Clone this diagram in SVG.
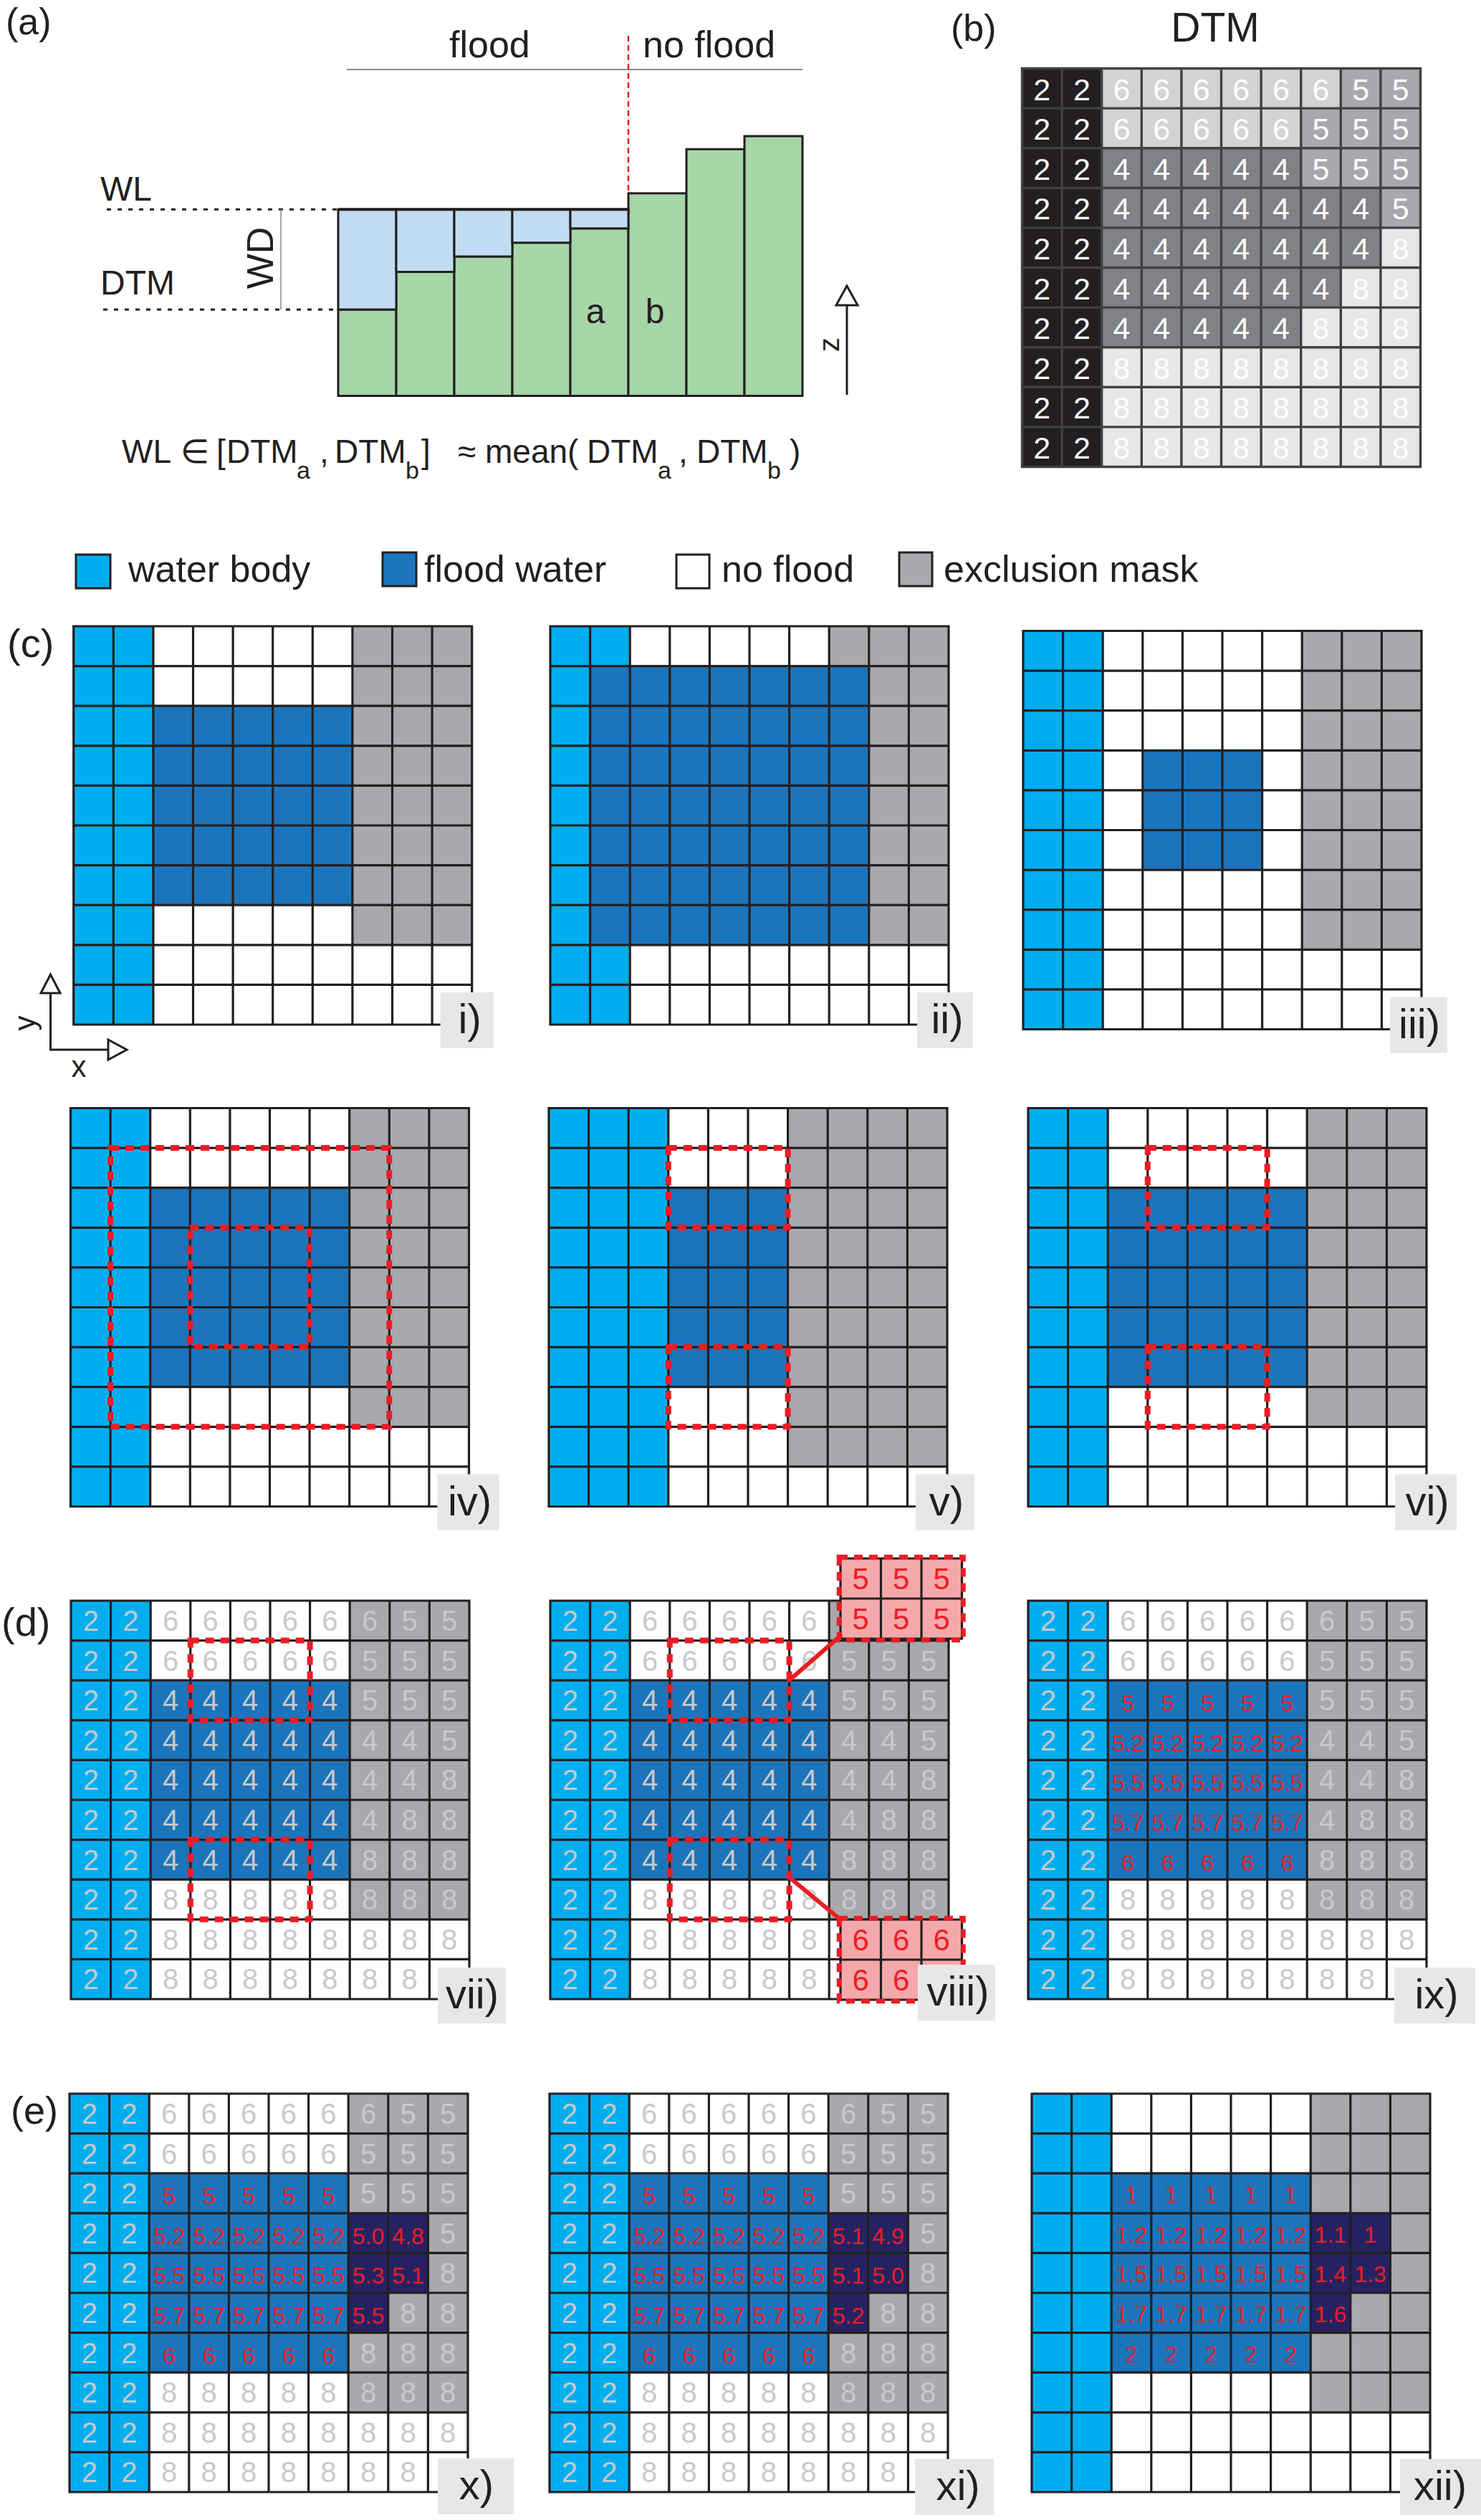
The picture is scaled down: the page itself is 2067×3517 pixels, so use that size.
<svg xmlns="http://www.w3.org/2000/svg" xmlns:xlink="http://www.w3.org/1999/xlink" width="2067" height="3517" viewBox="0 0 2067 3517">
<style>
text{font-family:'Liberation Sans',Arial,sans-serif}
.ln{fill:none;stroke:#231f20;stroke-width:3.2;stroke-linecap:square}
.lnb{fill:none;stroke:#414042;stroke-width:3.4;stroke-linecap:square}
.w{fill:#00aeef}.f{fill:#1b75bc}.e{fill:#a7a9ac}.d{fill:#262262}.n{fill:#fff}
.rd{fill:none;stroke:#ed1c24;stroke-width:8;stroke-dasharray:12 9}
.lb{fill:#e6e7e8}
.lt{font-size:58px;fill:#231f20;text-anchor:middle}
.g{font-size:40px;fill:#c8c9cb;text-anchor:middle}
.r{font-size:32px;fill:#ed1c24;text-anchor:middle}
.rb{font-size:42px;fill:#ed1c24;text-anchor:middle}
.bw{font-size:43px;fill:#fff;text-anchor:middle}
.t{font-size:52px;fill:#231f20}
.sw{stroke:#231f20;stroke-width:3}
</style>
<defs>
<path id="grid" class="ln" d="M0 0H556M0 55.6H556M0 111.2H556M0 166.8H556M0 222.4H556M0 278H556M0 333.6H556M0 389.2H556M0 444.8H556M0 500.4H556M0 556H556M0 0V556M55.6 0V556M111.2 0V556M166.8 0V556M222.4 0V556M278 0V556M333.6 0V556M389.2 0V556M444.8 0V556M500.4 0V556M556 0V556"/>
<path id="gridb" class="lnb" d="M0 0H556M0 55.6H556M0 111.2H556M0 166.8H556M0 222.4H556M0 278H556M0 333.6H556M0 389.2H556M0 444.8H556M0 500.4H556M0 556H556M0 0V556M55.6 0V556M111.2 0V556M166.8 0V556M222.4 0V556M278 0V556M333.6 0V556M389.2 0V556M444.8 0V556M500.4 0V556M556 0V556"/>
</defs>
<rect width="2067" height="3517" fill="#fff"/>

<!-- (a) -->
<g id="panel-a">
<text class="t" x="8" y="48">(a)</text>
<line x1="484" y1="97" x2="1120" y2="97" stroke="#8a8a8a" stroke-width="2"/>
<text class="t" x="627" y="80">flood</text>
<text class="t" x="897" y="80">no flood</text>
<line x1="877" y1="50" x2="877" y2="270" stroke="#ed1c24" stroke-width="2.5" stroke-dasharray="8 5"/>
<g stroke="#231f20" stroke-width="3" fill="#a6d5a8">
<rect x="472" y="432" width="81" height="120.5"/>
<rect x="553" y="379.5" width="81" height="173"/>
<rect x="634" y="358" width="81" height="194.5"/>
<rect x="715" y="338.7" width="81" height="213.8"/>
<rect x="796" y="318.8" width="81" height="233.7"/>
<rect x="877" y="269.8" width="81" height="282.7"/>
<rect x="958" y="208.2" width="81" height="344.3"/>
<rect x="1039" y="190" width="81" height="362.5"/>
</g>
<g stroke="#231f20" stroke-width="3" fill="#c1dcf2">
<rect x="472" y="292.3" width="81" height="139.7"/>
<rect x="553" y="292.3" width="81" height="87.2"/>
<rect x="634" y="292.3" width="81" height="65.7"/>
<rect x="715" y="292.3" width="81" height="46.4"/>
<rect x="796" y="292.3" width="81" height="26.5"/>
</g>
<line x1="472" y1="292.3" x2="877" y2="292.3" stroke="#231f20" stroke-width="4"/>
<line x1="149" y1="292.3" x2="470" y2="292.3" stroke="#231f20" stroke-width="3" stroke-dasharray="6 9"/>
<line x1="144" y1="432" x2="470" y2="432" stroke="#231f20" stroke-width="3" stroke-dasharray="6 9"/>
<line x1="392" y1="292.3" x2="392" y2="432" stroke="#8a8a8a" stroke-width="1.5"/>
<text x="140" y="280" font-size="48" fill="#231f20">WL</text>
<text x="140" y="411" font-size="48" fill="#231f20">DTM</text>
<text transform="translate(381,360) rotate(-90)" font-size="52" fill="#231f20" text-anchor="middle">WD</text>
<text x="831" y="451" font-size="48" fill="#231f20" text-anchor="middle">a</text>
<text x="914" y="451" font-size="48" fill="#231f20" text-anchor="middle">b</text>
<line x1="1182" y1="551" x2="1182" y2="425" stroke="#231f20" stroke-width="3"/>
<polygon points="1182,399 1167,426 1197,426" fill="#fff" stroke="#231f20" stroke-width="3"/>
<text transform="translate(1171,481) rotate(-90)" font-size="40" fill="#231f20" text-anchor="middle">z</text>
<text font-size="46" fill="#231f20"><tspan x="170" y="646">WL</tspan><tspan x="252" y="646">∈</tspan><tspan x="302" y="646">[</tspan><tspan x="316" y="646">DTM</tspan><tspan x="414" y="668" font-size="34">a</tspan><tspan x="446" y="646">,</tspan><tspan x="467" y="646">DTM</tspan><tspan x="566" y="668" font-size="34">b</tspan><tspan x="588" y="646">]</tspan><tspan x="639" y="646">≈</tspan><tspan x="677" y="646">mean(</tspan><tspan x="819" y="646">DTM</tspan><tspan x="918" y="668" font-size="34">a</tspan><tspan x="947" y="646">,</tspan><tspan x="972" y="646">DTM</tspan><tspan x="1071" y="668" font-size="34">b</tspan><tspan x="1102" y="646">)</tspan></text>
</g>

<!-- (b) -->
<g id="panel-b">
<text class="t" x="1327" y="57">(b)</text>
<text x="1696" y="58" font-size="57" fill="#231f20" text-anchor="middle">DTM</text>
<g transform="translate(1426.5,95.5)">
<rect width="556" height="556" fill="#e6e7e8"/>
<rect width="111.2" height="556" fill="#231f20"/>
<g fill="#d1d3d4"><rect x="111.2" width="333.6" height="55.6"/><rect x="111.2" y="55.6" width="278" height="55.6"/></g>
<g fill="#a7a9ac"><rect x="444.8" width="111.2" height="55.6"/><rect x="389.2" y="55.6" width="166.8" height="111.2"/><rect x="500.4" y="166.8" width="55.6" height="55.6"/></g>
<g fill="#808285"><rect x="111.2" y="111.2" width="278" height="55.6"/><rect x="111.2" y="166.8" width="389.2" height="111.2"/><rect x="111.2" y="278" width="333.6" height="55.6"/><rect x="111.2" y="333.6" width="278" height="55.6"/></g>
<use href="#gridb"/>
<g class="bw">
<g transform="translate(0,44)"><text x="27.8">2</text><text x="83.4">2</text><text x="139">6</text><text x="194.6">6</text><text x="250.2">6</text><text x="305.8">6</text><text x="361.4">6</text><text x="417">6</text><text x="472.6">5</text><text x="528.2">5</text></g>
<g transform="translate(0,99.6)"><text x="27.8">2</text><text x="83.4">2</text><text x="139">6</text><text x="194.6">6</text><text x="250.2">6</text><text x="305.8">6</text><text x="361.4">6</text><text x="417">5</text><text x="472.6">5</text><text x="528.2">5</text></g>
<g transform="translate(0,155.2)"><text x="27.8">2</text><text x="83.4">2</text><text x="139">4</text><text x="194.6">4</text><text x="250.2">4</text><text x="305.8">4</text><text x="361.4">4</text><text x="417">5</text><text x="472.6">5</text><text x="528.2">5</text></g>
<g transform="translate(0,210.8)"><text x="27.8">2</text><text x="83.4">2</text><text x="139">4</text><text x="194.6">4</text><text x="250.2">4</text><text x="305.8">4</text><text x="361.4">4</text><text x="417">4</text><text x="472.6">4</text><text x="528.2">5</text></g>
<g transform="translate(0,266.4)"><text x="27.8">2</text><text x="83.4">2</text><text x="139">4</text><text x="194.6">4</text><text x="250.2">4</text><text x="305.8">4</text><text x="361.4">4</text><text x="417">4</text><text x="472.6">4</text><text x="528.2">8</text></g>
<g transform="translate(0,322)"><text x="27.8">2</text><text x="83.4">2</text><text x="139">4</text><text x="194.6">4</text><text x="250.2">4</text><text x="305.8">4</text><text x="361.4">4</text><text x="417">4</text><text x="472.6">8</text><text x="528.2">8</text></g>
<g transform="translate(0,377.6)"><text x="27.8">2</text><text x="83.4">2</text><text x="139">4</text><text x="194.6">4</text><text x="250.2">4</text><text x="305.8">4</text><text x="361.4">4</text><text x="417">8</text><text x="472.6">8</text><text x="528.2">8</text></g>
<g transform="translate(0,433.2)"><text x="27.8">2</text><text x="83.4">2</text><text x="139">8</text><text x="194.6">8</text><text x="250.2">8</text><text x="305.8">8</text><text x="361.4">8</text><text x="417">8</text><text x="472.6">8</text><text x="528.2">8</text></g>
<g transform="translate(0,488.8)"><text x="27.8">2</text><text x="83.4">2</text><text x="139">8</text><text x="194.6">8</text><text x="250.2">8</text><text x="305.8">8</text><text x="361.4">8</text><text x="417">8</text><text x="472.6">8</text><text x="528.2">8</text></g>
<g transform="translate(0,544.4)"><text x="27.8">2</text><text x="83.4">2</text><text x="139">8</text><text x="194.6">8</text><text x="250.2">8</text><text x="305.8">8</text><text x="361.4">8</text><text x="417">8</text><text x="472.6">8</text><text x="528.2">8</text></g>
</g>
</g>
</g>

<!-- legend -->
<g id="legend">
<rect class="w sw" x="106" y="774" width="48" height="47"/>
<text class="t" x="179" y="812">water body</text>
<rect class="f sw" x="534" y="771" width="47" height="47"/>
<text class="t" x="592" y="812">flood water</text>
<rect class="n sw" x="944" y="774" width="46" height="47"/>
<text class="t" x="1007" y="812">no flood</text>
<rect class="e sw" x="1255" y="771" width="46" height="47"/>
<text class="t" x="1317" y="812">exclusion mask</text>
</g>

<text id="label-c" x="10" y="917" font-size="56" fill="#231f20">(c)</text>
<text id="label-d" x="2" y="2283" font-size="56" fill="#231f20">(d)</text>
<text id="label-e" x="15" y="2964" font-size="54" fill="#231f20">(e)</text>

<g id="axes">
<path d="M70.5 1386V1465H152" fill="none" stroke="#231f20" stroke-width="3"/>
<polygon points="70.5,1360 57,1386 84,1386" fill="#fff" stroke="#231f20" stroke-width="3"/>
<polygon points="177,1465 151,1451 151,1479" fill="#fff" stroke="#231f20" stroke-width="3"/>
<text transform="translate(49,1428) rotate(-90)" font-size="42" fill="#231f20" text-anchor="middle">y</text>
<text x="110" y="1503" font-size="42" fill="#231f20" text-anchor="middle">x</text>
</g>

<!-- i -->
<g id="panel-i" transform="translate(102.7,874)">
<rect class="n" width="556" height="556"/>
<rect class="w" width="111.2" height="556"/>
<rect class="f" x="111.2" y="111.2" width="278" height="278"/>
<rect class="e" x="389.2" width="166.8" height="444.8"/>
<use href="#grid"/>
<rect class="lb" x="512" y="511" width="74" height="78"/><text class="lt" x="553" y="568">i)</text>
</g>

<!-- ii -->
<g id="panel-ii" transform="translate(768,874)">
<rect class="n" width="556" height="556"/>
<rect class="w" width="55.6" height="556"/>
<rect class="w" x="55.6" width="55.6" height="55.6"/>
<rect class="w" x="55.6" y="444.8" width="55.6" height="111.2"/>
<rect class="f" x="55.6" y="55.6" width="389.2" height="389.2"/>
<rect class="e" x="389.2" width="166.8" height="55.6"/>
<rect class="e" x="444.8" y="55.6" width="111.2" height="389.2"/>
<use href="#grid"/>
<rect class="lb" x="512" y="511" width="78" height="78"/><text class="lt" x="554" y="568">ii)</text>
</g>

<!-- iii -->
<g id="panel-iii" transform="translate(1428,880.5)">
<rect class="n" width="556" height="556"/>
<rect class="w" width="111.2" height="556"/>
<rect class="f" x="166.8" y="166.8" width="166.8" height="166.8"/>
<rect class="e" x="389.2" width="166.8" height="444.8"/>
<use href="#grid"/>
<rect class="lb" x="512" y="511" width="80" height="78"/><text class="lt" x="553" y="568">iii)</text>
</g>

<!-- iv -->
<g id="panel-iv" transform="translate(98.5,1546.5)">
<rect class="n" width="556" height="556"/>
<rect class="w" width="111.2" height="556"/>
<rect class="f" x="111.2" y="111.2" width="278" height="278"/>
<rect class="e" x="389.2" width="166.8" height="444.8"/>
<use href="#grid"/>
<rect class="rd" x="55.6" y="55.6" width="389.2" height="389.2"/>
<rect class="rd" x="166.8" y="166.8" width="166.8" height="166.8"/>
<rect class="lb" x="512" y="511" width="86" height="78"/><text class="lt" x="557" y="568">iv)</text>
</g>

<!-- v -->
<g id="panel-v" transform="translate(766,1546.5)">
<rect class="n" width="556" height="556"/>
<rect class="w" width="166.8" height="556"/>
<rect class="f" x="166.8" y="111.2" width="166.8" height="278"/>
<rect class="e" x="333.6" width="222.4" height="500.4"/>
<use href="#grid"/>
<rect class="rd" x="166.8" y="55.6" width="166.8" height="111.2"/>
<rect class="rd" x="166.8" y="333.6" width="166.8" height="111.2"/>
<rect class="lb" x="512" y="511" width="82" height="78"/><text class="lt" x="555" y="568">v)</text>
</g>

<!-- vi -->
<g id="panel-vi" transform="translate(1435,1546.5)">
<rect class="n" width="556" height="556"/>
<rect class="w" width="111.2" height="556"/>
<rect class="f" x="111.2" y="111.2" width="278" height="278"/>
<rect class="e" x="389.2" width="166.8" height="444.8"/>
<use href="#grid"/>
<rect class="rd" x="166.8" y="55.6" width="166.8" height="111.2"/>
<rect class="rd" x="166.8" y="333.6" width="166.8" height="111.2"/>
<rect class="lb" x="512" y="511" width="86" height="78"/><text class="lt" x="557" y="568">vi)</text>
</g>

<!-- vii -->
<g id="panel-vii" transform="translate(99,2234)">
<rect class="n" width="556" height="556"/>
<rect class="w" width="111.2" height="556"/>
<rect class="f" x="111.2" y="111.2" width="278" height="278"/>
<rect class="e" x="389.2" width="166.8" height="444.8"/>
<use href="#grid"/>
<g class="g">
<g transform="translate(0,42)"><text x="27.8">2</text><text x="83.4">2</text><text x="139">6</text><text x="194.6">6</text><text x="250.2">6</text><text x="305.8">6</text><text x="361.4">6</text><text x="417">6</text><text x="472.6">5</text><text x="528.2">5</text></g>
<g transform="translate(0,97.6)"><text x="27.8">2</text><text x="83.4">2</text><text x="139">6</text><text x="194.6">6</text><text x="250.2">6</text><text x="305.8">6</text><text x="361.4">6</text><text x="417">5</text><text x="472.6">5</text><text x="528.2">5</text></g>
<g transform="translate(0,153.2)"><text x="27.8">2</text><text x="83.4">2</text><text x="139">4</text><text x="194.6">4</text><text x="250.2">4</text><text x="305.8">4</text><text x="361.4">4</text><text x="417">5</text><text x="472.6">5</text><text x="528.2">5</text></g>
<g transform="translate(0,208.8)"><text x="27.8">2</text><text x="83.4">2</text><text x="139">4</text><text x="194.6">4</text><text x="250.2">4</text><text x="305.8">4</text><text x="361.4">4</text><text x="417">4</text><text x="472.6">4</text><text x="528.2">5</text></g>
<g transform="translate(0,264.4)"><text x="27.8">2</text><text x="83.4">2</text><text x="139">4</text><text x="194.6">4</text><text x="250.2">4</text><text x="305.8">4</text><text x="361.4">4</text><text x="417">4</text><text x="472.6">4</text><text x="528.2">8</text></g>
<g transform="translate(0,320)"><text x="27.8">2</text><text x="83.4">2</text><text x="139">4</text><text x="194.6">4</text><text x="250.2">4</text><text x="305.8">4</text><text x="361.4">4</text><text x="417">4</text><text x="472.6">8</text><text x="528.2">8</text></g>
<g transform="translate(0,375.6)"><text x="27.8">2</text><text x="83.4">2</text><text x="139">4</text><text x="194.6">4</text><text x="250.2">4</text><text x="305.8">4</text><text x="361.4">4</text><text x="417">8</text><text x="472.6">8</text><text x="528.2">8</text></g>
<g transform="translate(0,431.2)"><text x="27.8">2</text><text x="83.4">2</text><text x="139">8</text><text x="194.6">8</text><text x="250.2">8</text><text x="305.8">8</text><text x="361.4">8</text><text x="417">8</text><text x="472.6">8</text><text x="528.2">8</text></g>
<g transform="translate(0,486.8)"><text x="27.8">2</text><text x="83.4">2</text><text x="139">8</text><text x="194.6">8</text><text x="250.2">8</text><text x="305.8">8</text><text x="361.4">8</text><text x="417">8</text><text x="472.6">8</text><text x="528.2">8</text></g>
<g transform="translate(0,542.4)"><text x="27.8">2</text><text x="83.4">2</text><text x="139">8</text><text x="194.6">8</text><text x="250.2">8</text><text x="305.8">8</text><text x="361.4">8</text><text x="417">8</text><text x="472.6">8</text></g>
</g>
<rect class="rd" x="166.8" y="55.6" width="166.8" height="111.2"/>
<rect class="rd" x="166.8" y="333.6" width="166.8" height="111.2"/>
<rect class="lb" x="512" y="512" width="95" height="78"/><text class="lt" x="560" y="569">vii)</text>
</g>

<!-- viii -->
<g id="panel-viii" transform="translate(768,2234)">
<rect class="n" width="556" height="556"/>
<rect class="w" width="111.2" height="556"/>
<rect class="f" x="111.2" y="111.2" width="278" height="278"/>
<rect class="e" x="389.2" width="166.8" height="444.8"/>
<use href="#grid"/>
<g class="g">
<g transform="translate(0,42)"><text x="27.8">2</text><text x="83.4">2</text><text x="139">6</text><text x="194.6">6</text><text x="250.2">6</text><text x="305.8">6</text><text x="361.4">6</text></g>
<g transform="translate(0,97.6)"><text x="27.8">2</text><text x="83.4">2</text><text x="139">6</text><text x="194.6">6</text><text x="250.2">6</text><text x="305.8">6</text><text x="361.4">6</text><text x="417">5</text><text x="472.6">5</text><text x="528.2">5</text></g>
<g transform="translate(0,153.2)"><text x="27.8">2</text><text x="83.4">2</text><text x="139">4</text><text x="194.6">4</text><text x="250.2">4</text><text x="305.8">4</text><text x="361.4">4</text><text x="417">5</text><text x="472.6">5</text><text x="528.2">5</text></g>
<g transform="translate(0,208.8)"><text x="27.8">2</text><text x="83.4">2</text><text x="139">4</text><text x="194.6">4</text><text x="250.2">4</text><text x="305.8">4</text><text x="361.4">4</text><text x="417">4</text><text x="472.6">4</text><text x="528.2">5</text></g>
<g transform="translate(0,264.4)"><text x="27.8">2</text><text x="83.4">2</text><text x="139">4</text><text x="194.6">4</text><text x="250.2">4</text><text x="305.8">4</text><text x="361.4">4</text><text x="417">4</text><text x="472.6">4</text><text x="528.2">8</text></g>
<g transform="translate(0,320)"><text x="27.8">2</text><text x="83.4">2</text><text x="139">4</text><text x="194.6">4</text><text x="250.2">4</text><text x="305.8">4</text><text x="361.4">4</text><text x="417">4</text><text x="472.6">8</text><text x="528.2">8</text></g>
<g transform="translate(0,375.6)"><text x="27.8">2</text><text x="83.4">2</text><text x="139">4</text><text x="194.6">4</text><text x="250.2">4</text><text x="305.8">4</text><text x="361.4">4</text><text x="417">8</text><text x="472.6">8</text><text x="528.2">8</text></g>
<g transform="translate(0,431.2)"><text x="27.8">2</text><text x="83.4">2</text><text x="139">8</text><text x="194.6">8</text><text x="250.2">8</text><text x="305.8">8</text><text x="361.4">8</text><text x="417">8</text><text x="472.6">8</text><text x="528.2">8</text></g>
<g transform="translate(0,486.8)"><text x="27.8">2</text><text x="83.4">2</text><text x="139">8</text><text x="194.6">8</text><text x="250.2">8</text><text x="305.8">8</text><text x="361.4">8</text></g>
<g transform="translate(0,542.4)"><text x="27.8">2</text><text x="83.4">2</text><text x="139">8</text><text x="194.6">8</text><text x="250.2">8</text><text x="305.8">8</text><text x="361.4">8</text></g>
</g>
<rect class="rd" x="166.8" y="55.6" width="166.8" height="111.2"/>
<rect class="rd" x="166.8" y="333.6" width="166.8" height="111.2"/>
</g>

<g id="callout-top" transform="translate(1173,2175)">
<rect width="169.5" height="112" fill="#f5a8aa"/>
<path class="ln" d="M0 0H169.5M0 56H169.5M0 112H169.5M0 0V112M56.5 0V112M113 0V112M169.5 0V112"/>
<rect class="rd" x="-2" y="-2" width="173.5" height="116" style="stroke-width:6.5"/>
<g class="rb"><text x="28.25" y="43">5</text><text x="84.75" y="43">5</text><text x="141.25" y="43">5</text><text x="28.25" y="99">5</text><text x="84.75" y="99">5</text><text x="141.25" y="99">5</text></g>
</g>
<g id="callout-bottom" transform="translate(1173,2679)">
<rect width="169.5" height="112" fill="#f5a8aa"/>
<path class="ln" d="M0 0H169.5M0 56H169.5M0 112H169.5M0 0V112M56.5 0V112M113 0V112M169.5 0V112"/>
<rect class="rd" x="-2" y="-2" width="173.5" height="116" style="stroke-width:6.5"/>
<g class="rb"><text x="28.25" y="43">6</text><text x="84.75" y="43">6</text><text x="141.25" y="43">6</text><text x="28.25" y="99">6</text><text x="84.75" y="99">6</text></g>
</g>

<g id="connectors" stroke="#ed1c24" stroke-width="6" stroke-linecap="round">
<line x1="1101.6" y1="2345" x2="1173" y2="2283"/>
<line x1="1101.6" y1="2620" x2="1173" y2="2679"/>
</g>

<g id="label-viii"><rect class="lb" x="1281" y="2742" width="108" height="78"/><text class="lt" x="1337" y="2799">viii)</text></g>

<!-- ix -->
<g id="panel-ix" transform="translate(1435,2234)">
<rect class="n" width="556" height="556"/>
<rect class="w" width="111.2" height="556"/>
<rect class="f" x="111.2" y="111.2" width="278" height="278"/>
<rect class="e" x="389.2" width="166.8" height="444.8"/>
<use href="#grid"/>
<g class="g">
<g transform="translate(0,42)"><text x="27.8">2</text><text x="83.4">2</text><text x="139">6</text><text x="194.6">6</text><text x="250.2">6</text><text x="305.8">6</text><text x="361.4">6</text><text x="417">6</text><text x="472.6">5</text><text x="528.2">5</text></g>
<g transform="translate(0,97.6)"><text x="27.8">2</text><text x="83.4">2</text><text x="139">6</text><text x="194.6">6</text><text x="250.2">6</text><text x="305.8">6</text><text x="361.4">6</text><text x="417">5</text><text x="472.6">5</text><text x="528.2">5</text></g>
<g transform="translate(0,153.2)"><text x="27.8">2</text><text x="83.4">2</text><text x="417">5</text><text x="472.6">5</text><text x="528.2">5</text></g>
<g transform="translate(0,208.8)"><text x="27.8">2</text><text x="83.4">2</text><text x="417">4</text><text x="472.6">4</text><text x="528.2">5</text></g>
<g transform="translate(0,264.4)"><text x="27.8">2</text><text x="83.4">2</text><text x="417">4</text><text x="472.6">4</text><text x="528.2">8</text></g>
<g transform="translate(0,320)"><text x="27.8">2</text><text x="83.4">2</text><text x="417">4</text><text x="472.6">8</text><text x="528.2">8</text></g>
<g transform="translate(0,375.6)"><text x="27.8">2</text><text x="83.4">2</text><text x="417">8</text><text x="472.6">8</text><text x="528.2">8</text></g>
<g transform="translate(0,431.2)"><text x="27.8">2</text><text x="83.4">2</text><text x="139">8</text><text x="194.6">8</text><text x="250.2">8</text><text x="305.8">8</text><text x="361.4">8</text><text x="417">8</text><text x="472.6">8</text><text x="528.2">8</text></g>
<g transform="translate(0,486.8)"><text x="27.8">2</text><text x="83.4">2</text><text x="139">8</text><text x="194.6">8</text><text x="250.2">8</text><text x="305.8">8</text><text x="361.4">8</text><text x="417">8</text><text x="472.6">8</text><text x="528.2">8</text></g>
<g transform="translate(0,542.4)"><text x="27.8">2</text><text x="83.4">2</text><text x="139">8</text><text x="194.6">8</text><text x="250.2">8</text><text x="305.8">8</text><text x="361.4">8</text><text x="417">8</text><text x="472.6">8</text></g>
</g>
<g class="r">
<g transform="translate(0,154.2)"><text x="139">5</text><text x="194.6">5</text><text x="250.2">5</text><text x="305.8">5</text><text x="361.4">5</text></g>
<g transform="translate(0,209.8)"><text x="139">5.2</text><text x="194.6">5.2</text><text x="250.2">5.2</text><text x="305.8">5.2</text><text x="361.4">5.2</text></g>
<g transform="translate(0,265.4)"><text x="139">5.5</text><text x="194.6">5.5</text><text x="250.2">5.5</text><text x="305.8">5.5</text><text x="361.4">5.5</text></g>
<g transform="translate(0,321)"><text x="139">5.7</text><text x="194.6">5.7</text><text x="250.2">5.7</text><text x="305.8">5.7</text><text x="361.4">5.7</text></g>
<g transform="translate(0,376.6)"><text x="139">6</text><text x="194.6">6</text><text x="250.2">6</text><text x="305.8">6</text><text x="361.4">6</text></g>
</g>
<rect class="lb" x="511" y="512" width="113" height="78"/><text class="lt" x="570" y="569">ix)</text>
</g>

<!-- x -->
<g id="panel-x" transform="translate(97,2922)">
<rect class="n" width="556" height="556"/>
<rect class="w" width="111.2" height="556"/>
<rect class="f" x="111.2" y="111.2" width="278" height="278"/>
<rect class="e" x="389.2" width="166.8" height="444.8"/>
<rect class="d" x="389.2" y="166.8" width="111.2" height="111.2"/>
<rect class="d" x="389.2" y="278" width="55.6" height="55.6"/>
<use href="#grid"/>
<g class="g">
<g transform="translate(0,42)"><text x="27.8">2</text><text x="83.4">2</text><text x="139">6</text><text x="194.6">6</text><text x="250.2">6</text><text x="305.8">6</text><text x="361.4">6</text><text x="417">6</text><text x="472.6">5</text><text x="528.2">5</text></g>
<g transform="translate(0,97.6)"><text x="27.8">2</text><text x="83.4">2</text><text x="139">6</text><text x="194.6">6</text><text x="250.2">6</text><text x="305.8">6</text><text x="361.4">6</text><text x="417">5</text><text x="472.6">5</text><text x="528.2">5</text></g>
<g transform="translate(0,153.2)"><text x="27.8">2</text><text x="83.4">2</text><text x="417">5</text><text x="472.6">5</text><text x="528.2">5</text></g>
<g transform="translate(0,208.8)"><text x="27.8">2</text><text x="83.4">2</text><text x="528.2">5</text></g>
<g transform="translate(0,264.4)"><text x="27.8">2</text><text x="83.4">2</text><text x="528.2">8</text></g>
<g transform="translate(0,320)"><text x="27.8">2</text><text x="83.4">2</text><text x="472.6">8</text><text x="528.2">8</text></g>
<g transform="translate(0,375.6)"><text x="27.8">2</text><text x="83.4">2</text><text x="417">8</text><text x="472.6">8</text><text x="528.2">8</text></g>
<g transform="translate(0,431.2)"><text x="27.8">2</text><text x="83.4">2</text><text x="139">8</text><text x="194.6">8</text><text x="250.2">8</text><text x="305.8">8</text><text x="361.4">8</text><text x="417">8</text><text x="472.6">8</text><text x="528.2">8</text></g>
<g transform="translate(0,486.8)"><text x="27.8">2</text><text x="83.4">2</text><text x="139">8</text><text x="194.6">8</text><text x="250.2">8</text><text x="305.8">8</text><text x="361.4">8</text><text x="417">8</text><text x="472.6">8</text><text x="528.2">8</text></g>
<g transform="translate(0,542.4)"><text x="27.8">2</text><text x="83.4">2</text><text x="139">8</text><text x="194.6">8</text><text x="250.2">8</text><text x="305.8">8</text><text x="361.4">8</text><text x="417">8</text><text x="472.6">8</text></g>
</g>
<g class="r">
<g transform="translate(0,154.2)"><text x="139">5</text><text x="194.6">5</text><text x="250.2">5</text><text x="305.8">5</text><text x="361.4">5</text></g>
<g transform="translate(0,209.8)"><text x="139">5.2</text><text x="194.6">5.2</text><text x="250.2">5.2</text><text x="305.8">5.2</text><text x="361.4">5.2</text><text x="417">5.0</text><text x="472.6">4.8</text></g>
<g transform="translate(0,265.4)"><text x="139">5.5</text><text x="194.6">5.5</text><text x="250.2">5.5</text><text x="305.8">5.5</text><text x="361.4">5.5</text><text x="417">5.3</text><text x="472.6">5.1</text></g>
<g transform="translate(0,321)"><text x="139">5.7</text><text x="194.6">5.7</text><text x="250.2">5.7</text><text x="305.8">5.7</text><text x="361.4">5.7</text><text x="417">5.5</text></g>
<g transform="translate(0,376.6)"><text x="139">6</text><text x="194.6">6</text><text x="250.2">6</text><text x="305.8">6</text><text x="361.4">6</text></g>
</g>
<rect class="lb" x="514" y="509" width="106" height="78"/><text class="lt" x="568" y="566">x)</text>
</g>

<!-- xi -->
<g id="panel-xi" transform="translate(767,2922)">
<rect class="n" width="556" height="556"/>
<rect class="w" width="111.2" height="556"/>
<rect class="f" x="111.2" y="111.2" width="278" height="278"/>
<rect class="e" x="389.2" width="166.8" height="444.8"/>
<rect class="d" x="389.2" y="166.8" width="111.2" height="111.2"/>
<rect class="d" x="389.2" y="278" width="55.6" height="55.6"/>
<use href="#grid"/>
<g class="g">
<g transform="translate(0,42)"><text x="27.8">2</text><text x="83.4">2</text><text x="139">6</text><text x="194.6">6</text><text x="250.2">6</text><text x="305.8">6</text><text x="361.4">6</text><text x="417">6</text><text x="472.6">5</text><text x="528.2">5</text></g>
<g transform="translate(0,97.6)"><text x="27.8">2</text><text x="83.4">2</text><text x="139">6</text><text x="194.6">6</text><text x="250.2">6</text><text x="305.8">6</text><text x="361.4">6</text><text x="417">5</text><text x="472.6">5</text><text x="528.2">5</text></g>
<g transform="translate(0,153.2)"><text x="27.8">2</text><text x="83.4">2</text><text x="417">5</text><text x="472.6">5</text><text x="528.2">5</text></g>
<g transform="translate(0,208.8)"><text x="27.8">2</text><text x="83.4">2</text><text x="528.2">5</text></g>
<g transform="translate(0,264.4)"><text x="27.8">2</text><text x="83.4">2</text><text x="528.2">8</text></g>
<g transform="translate(0,320)"><text x="27.8">2</text><text x="83.4">2</text><text x="472.6">8</text><text x="528.2">8</text></g>
<g transform="translate(0,375.6)"><text x="27.8">2</text><text x="83.4">2</text><text x="417">8</text><text x="472.6">8</text><text x="528.2">8</text></g>
<g transform="translate(0,431.2)"><text x="27.8">2</text><text x="83.4">2</text><text x="139">8</text><text x="194.6">8</text><text x="250.2">8</text><text x="305.8">8</text><text x="361.4">8</text><text x="417">8</text><text x="472.6">8</text><text x="528.2">8</text></g>
<g transform="translate(0,486.8)"><text x="27.8">2</text><text x="83.4">2</text><text x="139">8</text><text x="194.6">8</text><text x="250.2">8</text><text x="305.8">8</text><text x="361.4">8</text><text x="417">8</text><text x="472.6">8</text><text x="528.2">8</text></g>
<g transform="translate(0,542.4)"><text x="27.8">2</text><text x="83.4">2</text><text x="139">8</text><text x="194.6">8</text><text x="250.2">8</text><text x="305.8">8</text><text x="361.4">8</text><text x="417">8</text><text x="472.6">8</text></g>
</g>
<g class="r">
<g transform="translate(0,154.2)"><text x="139">5</text><text x="194.6">5</text><text x="250.2">5</text><text x="305.8">5</text><text x="361.4">5</text></g>
<g transform="translate(0,209.8)"><text x="139">5.2</text><text x="194.6">5.2</text><text x="250.2">5.2</text><text x="305.8">5.2</text><text x="361.4">5.2</text><text x="417">5.1</text><text x="472.6">4.9</text></g>
<g transform="translate(0,265.4)"><text x="139">5.5</text><text x="194.6">5.5</text><text x="250.2">5.5</text><text x="305.8">5.5</text><text x="361.4">5.5</text><text x="417">5.1</text><text x="472.6">5.0</text></g>
<g transform="translate(0,321)"><text x="139">5.7</text><text x="194.6">5.7</text><text x="250.2">5.7</text><text x="305.8">5.7</text><text x="361.4">5.7</text><text x="417">5.2</text></g>
<g transform="translate(0,376.6)"><text x="139">6</text><text x="194.6">6</text><text x="250.2">6</text><text x="305.8">6</text><text x="361.4">6</text></g>
</g>
<rect class="lb" x="510" y="510" width="110" height="78"/><text class="lt" x="570" y="567">xi)</text>
</g>

<!-- xii -->
<g id="panel-xii" transform="translate(1440,2922)">
<rect class="n" width="556" height="556"/>
<rect class="w" width="111.2" height="556"/>
<rect class="f" x="111.2" y="111.2" width="278" height="278"/>
<rect class="e" x="389.2" width="166.8" height="444.8"/>
<rect class="d" x="389.2" y="166.8" width="111.2" height="111.2"/>
<rect class="d" x="389.2" y="278" width="55.6" height="55.6"/>
<use href="#grid"/>
<g class="r">
<g transform="translate(0,152.2)"><text x="139">1</text><text x="194.6">1</text><text x="250.2">1</text><text x="305.8">1</text><text x="361.4">1</text></g>
<g transform="translate(0,207.8)"><text x="139">1.2</text><text x="194.6">1.2</text><text x="250.2">1.2</text><text x="305.8">1.2</text><text x="361.4">1.2</text><text x="417">1.1</text><text x="472.6">1</text></g>
<g transform="translate(0,263.4)"><text x="139">1.5</text><text x="194.6">1.5</text><text x="250.2">1.5</text><text x="305.8">1.5</text><text x="361.4">1.5</text><text x="417">1.4</text><text x="472.6">1.3</text></g>
<g transform="translate(0,319)"><text x="139">1.7</text><text x="194.6">1.7</text><text x="250.2">1.7</text><text x="305.8">1.7</text><text x="361.4">1.7</text><text x="417">1.6</text></g>
<g transform="translate(0,374.6)"><text x="139">2</text><text x="194.6">2</text><text x="250.2">2</text><text x="305.8">2</text><text x="361.4">2</text></g>
</g>
<rect class="lb" x="514" y="510" width="113" height="78"/><text class="lt" x="570" y="567">xii)</text>
</g>
</svg>
